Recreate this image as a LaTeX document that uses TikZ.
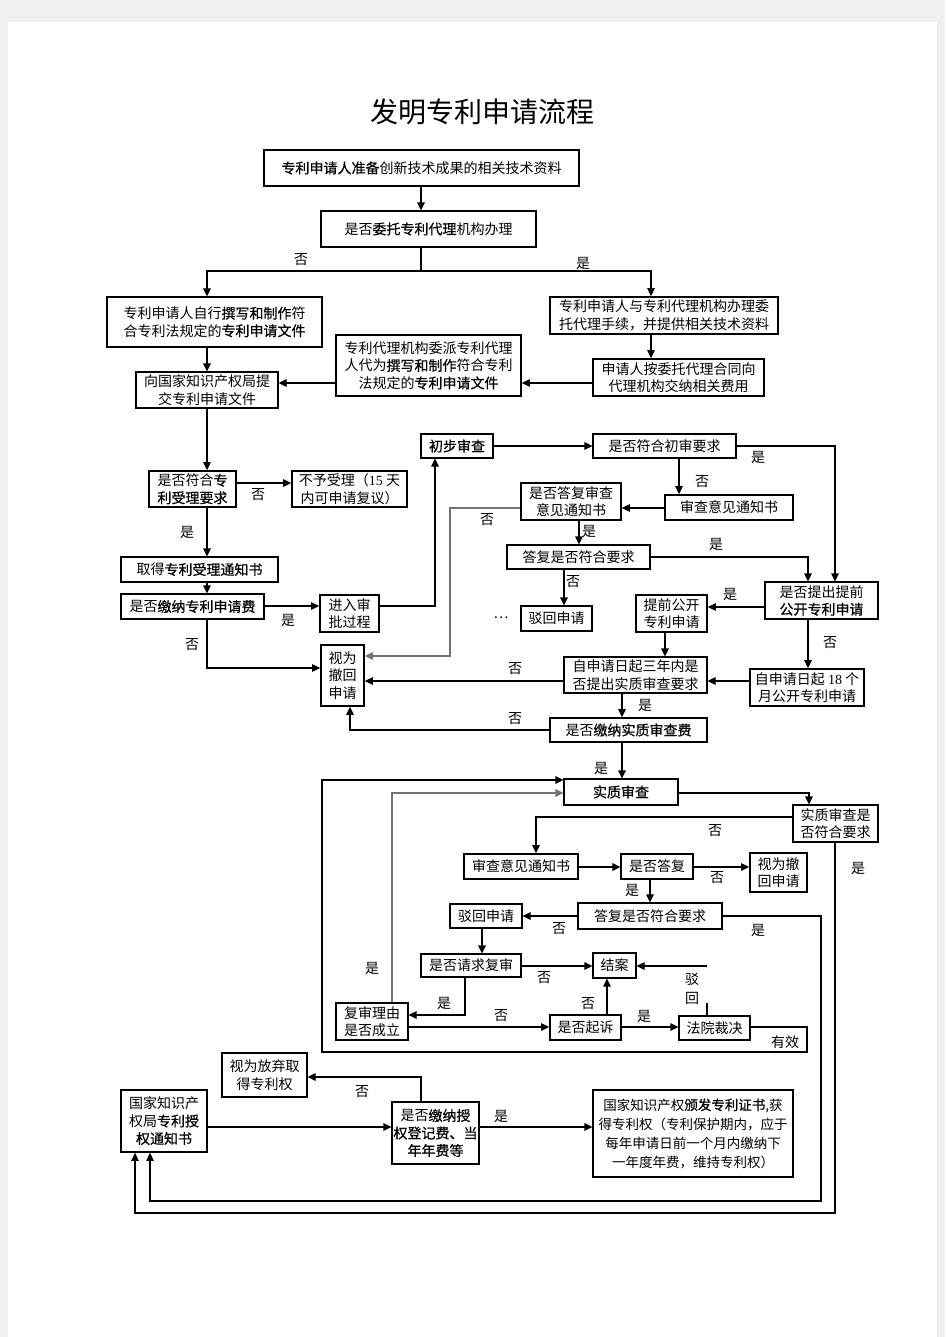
\documentclass[tikz,border=0pt]{standalone}
\usepackage{fontspec}
\setmainfont{Noto Sans CJK SC}
\newfontfamily\cjkb[FakeBold=0.6]{Noto Sans CJK SC}
\newfontfamily\numf{Liberation Serif}
\usetikzlibrary{arrows.meta}
\newcommand\bdf{\fontsize{14}{17.5}\selectfont}
\newcommand\kb[1]{{\cjkb #1}}
\begin{document}
\begin{tikzpicture}[x=1pt,y=-1pt,
 box/.style={draw=black,line width=1.1pt,fill=white,inner sep=0pt,align=center,font=\bdf},
 tbox/.style={box,line width=1.7pt},
 conn/.style={line width=1.1pt},
 arr/.style={conn,-{Triangle[length=8pt,width=7.5pt]}},
 garr/.style={arr,draw=black!55},
 lbl/.style={inner sep=0pt,font=\bdf}]
\useasboundingbox (0,0) rectangle (945,1337);
\fill[black!6] (0,0) rectangle (945,1337);
\fill[white] (8,22) rectangle (937,1337);

% title
\node[font=\fontsize{28}{30}\selectfont] (T) at (482,112) {发明专利申请流程};

% nodes
\node[tbox,minimum width=315pt,minimum height=36pt] (N1) at (421.5,168) {\kb{专利申请人准备}创新技术成果的相关技术资料};
\node[box,minimum width=215pt,minimum height=36pt] (N2) at (428.5,229) {是否\kb{委托专利代理}机构办理};
\node[box,minimum width=215pt,minimum height=50pt] (N3) at (214.5,322) {专利申请人自行\kb{撰写和制作}符\\合专利法规定的\kb{专利申请文件}};
\node[tbox,minimum width=228pt,minimum height=37pt] (N4) at (664,315.5) {专利申请人与专利代理机构办理委\\托代理手续，并提供相关技术资料};
\node[tbox,minimum width=171pt,minimum height=37pt] (N5) at (678.5,377.5) {申请人按委托代理合同向\\代理机构交纳相关费用};
\node[tbox,minimum width=185pt,minimum height=61pt] (N6) at (428.5,365.5) {专利代理机构委派专利代理\\人代为\kb{撰写和制作}符合专利\\法规定的\kb{专利申请文件}};
\node[box,minimum width=142pt,minimum height=36pt] (N7) at (207,390) {向国家知识产权局提\\交专利申请文件};
\node[box,minimum width=72pt,minimum height=24pt] (N13) at (457,446) {\kb{初步审查}};
\node[box,minimum width=143pt,minimum height=24pt] (N14) at (664.5,446) {是否符合初审要求};
\node[tbox,minimum width=87pt,minimum height=36pt] (N8) at (192.5,489) {是否符合\kb{专}\\\kb{利受理要求}};
\node[tbox,minimum width=115pt,minimum height=36pt] (N9) at (349.5,489) {不予受理（{\numf 15} 天\\内可申请复议）};
\node[tbox,minimum width=100pt,minimum height=37pt] (N16) at (571,501.5) {是否答复审查\\意见通知书};
\node[tbox,minimum width=128pt,minimum height=25pt] (N15) at (729,507.5) {审查意见通知书};
\node[box,minimum width=143pt,minimum height=24pt] (N18) at (578.5,557) {答复是否符合要求};
\node[box,minimum width=157pt,minimum height=25pt] (N10) at (199.5,569.5) {取得\kb{专利受理通知书}};
\node[box,minimum width=113pt,minimum height=37pt] (N17) at (821.5,600.5) {是否提出提前\\\kb{公开专利申请}};
\node[box,minimum width=143pt,minimum height=25pt] (N11) at (192.5,606.5) {是否\kb{缴纳专利申请费}};
\node[tbox,minimum width=59pt,minimum height=37pt] (N12) at (349.5,613.5) {进入审\\批过程};
\node[box,minimum width=71pt,minimum height=25pt] (N19) at (556.5,618.5) {驳回申请};
\node[tbox,minimum width=71pt,minimum height=37pt] (N20) at (671.5,613.5) {提前公开\\专利申请};
\node[tbox,minimum width=43pt,minimum height=61pt] (N23) at (342.5,675.5) {视为\\撤回\\申请};
\node[box,minimum width=143pt,minimum height=36pt] (N21) at (635.5,675) {自申请日起三年内是\\否提出实质审查要求};
\node[tbox,minimum width=114pt,minimum height=37pt] (N22) at (807,687.5) {自申请日起 {\numf 18} 个\\月公开专利申请};
\node[tbox,minimum width=157pt,minimum height=24pt] (N24) at (628.5,730) {是否\kb{缴纳实质审查费}};
\node[box,minimum width=114pt,minimum height=26pt] (N25) at (621,792) {\kb{实质审查}};
\node[box,minimum width=85pt,minimum height=37pt] (N26) at (835.5,823.5) {实质审查是\\否符合要求};
\node[tbox,minimum width=114pt,minimum height=25pt] (N27) at (521,866.5) {审查意见通知书};
\node[box,minimum width=72pt,minimum height=25pt] (N28) at (657,866.5) {是否答复};
\node[tbox,minimum width=57pt,minimum height=39pt] (N29) at (778.5,872.5) {视为撤\\回申请};
\node[box,minimum width=144pt,minimum height=26pt] (N30) at (650,916) {答复是否符合要求};
\node[box,minimum width=72pt,minimum height=24pt] (N31) at (486,916) {驳回申请};
\node[box,minimum width=100pt,minimum height=23pt] (N32) at (471,965.5) {是否请求复审};
\node[box,minimum width=43pt,minimum height=25pt] (N33) at (614.5,965.5) {结案};
\node[box,minimum width=72pt,minimum height=37pt] (N35) at (372,1021.5) {复审理由\\是否成立};
\node[tbox,minimum width=71pt,minimum height=25pt] (N36) at (585.5,1027.5) {是否起诉};
\node[box,minimum width=71pt,minimum height=24pt] (N34) at (714.5,1028) {法院裁决};
\node[box,minimum width=85pt,minimum height=44pt] (N39) at (264.5,1075) {视为放弃取\\得专利权};
\node[tbox,minimum width=86pt,minimum height=62pt] (N37) at (164,1121) {国家知识产\\权局\kb{专利授}\\\kb{权通知书}};
\node[box,minimum width=87pt,minimum height=62pt] (N38) at (435.5,1133) {是否\kb{缴纳授}\\\kb{权登记费、当}\\\kb{年年费等}};
\node[box,minimum width=200pt,minimum height=87pt,font=\fontsize{13.5}{19}\selectfont] (N40) at (693,1133.5) {国家知识产权\kb{颁发专利证书},获\\得专利权（专利保护期内，应于\\每年申请日前一个月内缴纳下\\一年度年费，维持专利权）};

% column / row coordinates
\foreach \c in {207,421,651,435,835,679,450,579,808,564,665,622,350,809,536,650,821,482,465,392,607,707,807,322,135,150}
  {\coordinate (c\c) at (\c,0);}
\foreach \r in {271,383,483,606,668,508,656,607,681,730,780,793,817,867,916,966,1015,1027,1003,1052,1213,1201,1127,1077}
  {\coordinate (r\r) at (0,\r);}

% connectors
\draw[arr] (N1.south -| c421) -- (N2.north -| c421);
\draw[conn] (N2.south -| c421) -- (c421 |- r271);
\draw[arr] (c421 |- r271) -| (c207 |- N3.north);
\draw[arr] (c421 |- r271) -| (c651 |- N4.north);
\draw[arr] (c207 |- N3.south) -- (c207 |- N7.north);
\draw[arr] (c651 |- N4.south) -- (c651 |- N5.north);
\draw[arr] (N5.west |- r383) -- (N6.east |- r383);
\draw[arr] (N6.west |- r383) -- (N7.east |- r383);
\draw[arr] (c207 |- N7.south) -- (c207 |- N8.north);
\draw[arr] (N8.east |- r483) -- (N9.west |- r483);
\draw[arr] (c207 |- N8.south) -- (c207 |- N10.north);
\draw[arr] (c207 |- N10.south) -- (c207 |- N11.north);
\draw[arr] (N11.east |- r606) -- (N12.west |- r606);
\draw[arr] (c207 |- N11.south) |- (N23.west |- r668);
\draw[arr] (N12.east |- r606) -| (c435 |- N13.south);
\draw[arr] (N13.east) -- (N14.west);
\draw[arr] (N14.east) -| (c835 |- N17.north);
\draw[arr] (c679 |- N14.south) -- (c679 |- N15.north);
\draw[arr] (N15.west |- r508) -- (N16.east |- r508);
\draw[garr] (N16.west |- r508) -| (c450 |- r656) -- (N23.east |- r656);
\draw[arr] (c579 |- N16.south) -- (c579 |- N18.north);
\draw[arr] (N18.east) -| (c808 |- N17.north);
\draw[arr] (c564 |- N18.south) -- (c564 |- N19.north);
\draw[arr] (N17.west |- r607) -- (N20.east |- r607);
\draw[arr] (c665 |- N20.south) -- (c665 |- N21.north);
\draw[arr] (c808 |- N17.south) -- (c808 |- N22.north);
\draw[arr] (N22.west |- r681) -- (N21.east |- r681);
\draw[arr] (N21.west |- r681) -- (N23.east |- r681);
\draw[arr] (c622 |- N21.south) -- (c622 |- N24.north);
\draw[arr] (N24.west |- r730) -| (c350 |- N23.south);
\draw[arr] (c622 |- N24.south) -- (c622 |- N25.north);
\draw[arr] (N25.east |- r793) -| (c809 |- N26.north);
\draw[arr] (N26.west |- r817) -| (c536 |- N27.north);
\draw[arr] (N27.east |- r867) -- (N28.west |- r867);
\draw[arr] (N28.east |- r867) -- (N29.west |- r867);
\draw[arr] (c835 |- N26.south) -- (c835 |- r1213) -| (c135 |- N37.south);
\draw[arr] (c650 |- N28.south) -- (c650 |- N30.north);
\draw[arr] (N30.west |- r916) -- (N31.east |- r916);
\draw[arr] (N30.east |- r916) -| (c821 |- r1201) -| (c150 |- N37.south);
\draw[arr] (c482 |- N31.south) -- (c482 |- N32.north);
\draw[arr] (N32.east |- r966) -- (N33.west |- r966);
\draw[arr] (c465 |- N32.south) |- (N35.east |- r1015);
\draw[garr] (c392 |- N35.north) |- (N25.west |- r793);
\draw[arr] (N35.east |- r1027) -- (N36.west |- r1027);
\draw[arr] (c607 |- N36.north) -- (c607 |- N33.south);
\draw[arr] (N36.east |- r1027) -- (N34.west |- r1027);
\draw[conn] (c707 |- N34.north) -- (c707 |- r1003);
\draw[arr] (c707 |- r966) -- (N33.east |- r966);
\draw[arr] (N34.east |- r1027) -| (c807 |- r1052) -| (c322 |- r780) -- (N25.west |- r780);
\draw[arr] (N37.east |- r1127) -- (N38.west |- r1127);
\draw[arr] (c421 |- N38.north) |- (N39.east |- r1077);
\draw[arr] (N38.east |- r1127) -- (N40.west |- r1127);

% labels
\node[lbl] (L1) at (301,260) {否};
\node[lbl] (L2) at (583,263) {是};
\node[lbl] (L3) at (258,495) {否};
\node[lbl] (L4) at (187,532) {是};
\node[lbl] (L5) at (288,620) {是};
\node[lbl] (L6) at (192,645) {否};
\node[lbl] (L7) at (758,457) {是};
\node[lbl] (L8) at (702,482) {否};
\node[lbl] (L9) at (487,520) {否};
\node[lbl] (L10) at (589,531) {是};
\node[lbl] (L11) at (716,544) {是};
\node[lbl] (L12) at (573,582) {否};
\node[lbl] (L13) at (501,618) {…};
\node[lbl] (L14) at (730,594) {是};
\node[lbl] (L15) at (830,643) {否};
\node[lbl] (L16) at (515,669) {否};
\node[lbl] (L17) at (645,705) {是};
\node[lbl] (L18) at (515,719) {否};
\node[lbl] (L19) at (601,768) {是};
\node[lbl] (L20) at (715,831) {否};
\node[lbl] (L21) at (717,878) {否};
\node[lbl] (L22) at (858,868) {是};
\node[lbl] (L23) at (632,890) {是};
\node[lbl] (L24) at (559,929) {否};
\node[lbl] (L25) at (758,930) {是};
\node[lbl] (L26) at (544,978) {否};
\node[lbl] (L27) at (444,1003) {是};
\node[lbl] (L28) at (372,968) {是};
\node[lbl] (L29) at (501,1016) {否};
\node[lbl] (L30) at (588,1004) {否};
\node[lbl] (L31) at (644,1016) {是};
\node[lbl] (L32) at (692,979) {驳};
\node[lbl] (L33) at (692,998) {回};
\node[lbl] (L34) at (785,1042) {有效};
\node[lbl] (L35) at (362,1092) {否};
\node[lbl] (L36) at (501,1116) {是};
\end{tikzpicture}
\end{document}
